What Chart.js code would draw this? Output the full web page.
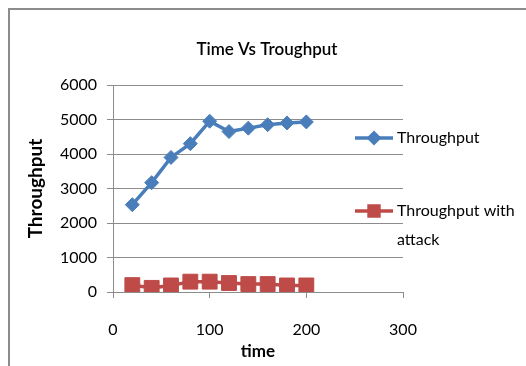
<!DOCTYPE html>
<html>
<head>
<meta charset="utf-8">
<script src="https://cdn.jsdelivr.net/npm/chart.js@4/dist/chart.umd.min.js"></script>
<style>
  html, body { margin: 0; padding: 0; background: #fff; overflow: hidden; }
  #wrap { position: relative; width: 526px; height: 366px; }
  #frame { position: absolute; left: 8px; top: 8px; width: 600px; height: 400px;
           border: 2px solid #8c8c8c; box-sizing: border-box; pointer-events: none; }
  canvas { position: absolute; left: 0; top: 0; }
</style>
</head>
<body>
<div id="wrap">
  <canvas id="timeChart" width="526" height="366"></canvas>
  <div id="frame"></div>
</div>
<script>
// time (x) and throughput values for both runs
let times = [20, 40, 60, 80, 100, 120, 140, 160, 180, 200];
let throughput = [2530, 3170, 3900, 4300, 4950, 4650, 4750, 4850, 4900, 4930];
let throughputAttack = [200, 120, 190, 300, 300, 260, 230, 230, 190, 190];
let seriesNames = ['Throughput', ['Throughput with', 'attack']];
let chartTitle = 'Time Vs Troughput';

const fontFamily = 'Lato, "Open Sans", sans-serif';
const gridColor = '#8c8c8c';

function toPoints(vals) {
  return times.map((t, i) => ({ x: t, y: vals[i] }));
}

// title and legend drawn by hand: title centred on the whole frame,
// legend sitting over the right edge of the plot like Excel does
const sideLegend = {
  id: 'sideLegend',
  afterDraw(chart) {
    const c = chart.ctx;
    c.save();
    c.fillStyle = '#000';
    c.font = '600 17px ' + fontFamily;
    c.textAlign = 'center';
    c.textBaseline = 'middle';
    c.fillText(chartTitle, 267, 50);
    c.restore();

    const rows = [138, 211];
    const sizes = [5, 7];
    chart.data.datasets.forEach((ds, i) => {
      const y = rows[i];
      c.save();
      c.strokeStyle = ds.borderColor;
      c.lineWidth = 3.5;
      c.beginPath();
      c.moveTo(355, y);
      c.lineTo(393, y);
      c.stroke();
      c.fillStyle = ds.backgroundColor;
      Chart.helpers.drawPoint(c, {
        pointStyle: ds.pointStyle,
        radius: sizes[i],
        borderWidth: 1
      }, 374, y);
      c.fillStyle = '#000';
      c.font = '16px ' + fontFamily;
      c.textAlign = 'left';
      c.textBaseline = 'middle';
      const lines = Array.isArray(seriesNames[i]) ? seriesNames[i] : [seriesNames[i]];
      lines.forEach((txt, k) => c.fillText(txt, 397, y + k * 29));
      c.restore();
    });
  }
};

const ctx = document.getElementById('timeChart').getContext('2d');
const chart = new Chart(ctx, {
  type: 'line',
  data: {
    datasets: [
      {
        label: 'Throughput',
        data: toPoints(throughput),
        borderColor: '#4a7ebb',
        backgroundColor: '#4a7ebb',
        borderWidth: 3.5,
        pointStyle: 'rectRot',
        pointRadius: 7,
        pointHoverRadius: 7,
        pointBorderWidth: 1,
        fill: false
      },
      {
        label: 'Throughput with attack',
        data: toPoints(throughputAttack),
        borderColor: '#be4b48',
        backgroundColor: '#be4b48',
        borderWidth: 3.5,
        pointStyle: 'rect',
        pointRadius: 10.5,
        pointHoverRadius: 10.5,
        pointBorderWidth: 1,
        fill: false
      }
    ]
  },
  options: {
    responsive: false,
    animation: false,
    layout: { padding: { left: 18, right: 123, top: 85, bottom: 4 } },
    plugins: {
      legend: { display: false },
      tooltip: { enabled: false },
      title: { display: false }
    },
    scales: {
      x: {
        type: 'linear',
        min: 0,
        max: 300,
        ticks: {
          stepSize: 100, color: '#000', padding: 22,
          font: { family: fontFamily, size: 16 },
          callback: v => String(v)
        },
        grid: { drawOnChartArea: false, color: gridColor, tickLength: 6 },
        border: { color: gridColor },
        title: {
          display: true,
          text: 'time',
          color: '#000',
          font: { family: fontFamily, size: 17, weight: 'bold' },
          padding: { top: 4, bottom: 0 }
        },
        afterFit(scale) { scale.height = 70; }
      },
      y: {
        min: 0,
        max: 6000,
        ticks: {
          stepSize: 1000, color: '#000', padding: 10,
          font: { family: fontFamily, size: 16 },
          callback: v => String(v)
        },
        grid: { color: gridColor, tickLength: 6 },
        border: { color: gridColor },
        title: {
          display: true,
          text: 'Throughput',
          color: '#000',
          font: { family: fontFamily, size: 19, weight: 'bold' },
          padding: { top: 6, bottom: 0 }
        },
        afterFit(scale) { scale.width = 95; }
      }
    }
  },
  plugins: [sideLegend]
});
</script>
</body>
</html>
